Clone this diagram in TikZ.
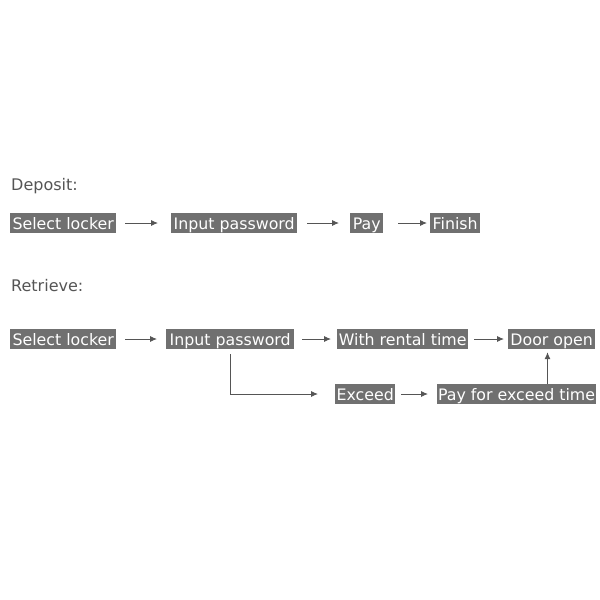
\documentclass[tikz,border=0pt]{standalone}
\usepackage{fontspec}
\setmainfont{DejaVu Sans}
\usetikzlibrary{arrows.meta,calc}
\definecolor{boxgray}{HTML}{707070}
\definecolor{txtgray}{HTML}{555555}
\definecolor{arrgray}{HTML}{555555}
\begin{document}
\begin{tikzpicture}[x=1pt,y=-1pt,
  box/.style={fill=boxgray,text=white,anchor=west,inner xsep=0.8pt,inner ysep=0pt,
    text height=16pt,text depth=4pt,
    minimum height=20pt,font=\fontsize{15.8}{19}\selectfont},
  lbl/.style={text=txtgray,anchor=west,inner sep=0pt,font=\fontsize{16}{19}\selectfont},
  arr/.style={draw=arrgray,line width=0.9pt,-{Latex[length=7pt,width=6pt]}}]
\useasboundingbox (0,0) rectangle (600,600);
\node[lbl] (dep) at (11,186) {Deposit:};
\node[box,minimum width=106pt] (s1) at (10,223) {Select locker};
\node[box,minimum width=126pt] (p1) at (171,223) {Input password};
\node[box,minimum width=33pt] (pay) at (350,223) {Pay};
\node[box,minimum width=50pt] (fin) at (430,223) {Finish};
\draw[arr,shorten <=9pt,shorten >=13pt] (s1) -- (p1);
\draw[arr,shorten <=10pt,shorten >=11pt] (p1) -- (pay);
\draw[arr,shorten <=15pt,shorten >=3pt] (pay) -- (fin);
\node[lbl] (ret) at (11,286) {Retrieve:};
\node[box,minimum width=106pt] (s2) at (10,339) {Select locker};
\node[box,minimum width=128pt] (p2) at (166,339) {Input password};
\node[box,minimum width=131pt] (wr) at (337,339) {With rental time};
\node[box,minimum width=87pt] (door) at (508,339) {Door open};
\node[box,minimum width=60pt] (exc) at (335,394) {Exceed};
\node[box,minimum width=158pt] (pfe) at (437,394) {Pay for exceed time};
\draw[arr,shorten <=9pt,shorten >=9pt] (s2) -- (p2);
\draw[arr,shorten <=8pt,shorten >=6pt] (p2) -- (wr);
\draw[arr,shorten <=6pt,shorten >=4pt] (wr) -- (door);
\draw[arr,shorten <=6pt,shorten >=9pt] (exc) -- (pfe);
\draw[arr,shorten <=5pt,shorten >=17pt] (p2.south) |- (exc.west);
\coordinate (up) at ($(pfe.north)+(31,0)$);
\draw[arr,shorten >=3pt] (up) -- (up |- door.south);
\end{tikzpicture}
\end{document}
